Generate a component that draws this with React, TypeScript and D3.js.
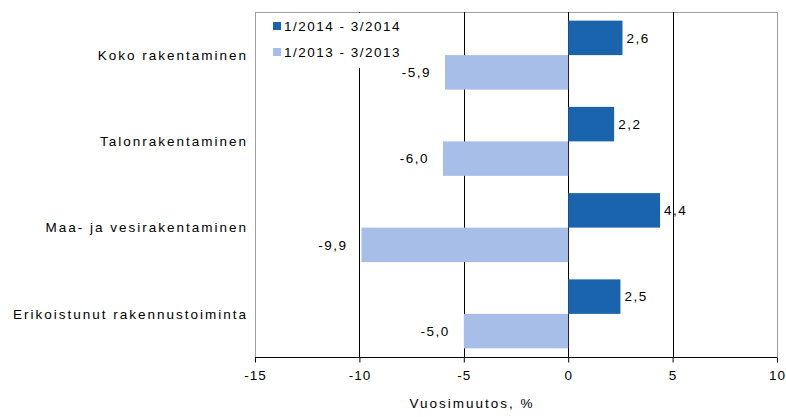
import { useEffect, useRef } from 'react';
import * as d3 from 'd3';

const categories = [
  'Koko rakentaminen',
  'Talonrakentaminen',
  'Maa- ja vesirakentaminen',
  'Erikoistunut rakennustoiminta',
];
const series = ['1/2014 - 3/2014', '1/2013 - 3/2013'];
const values2014 = [2.6, 2.2, 4.4, 2.5];
const values2013 = [-5.9, -6.0, -9.9, -5.0];
const ticks = [-15, -10, -5, 0, 5, 10];
const colors = ['#1a64ae', '#a7bee9'];

export default function App() {
  const ref = useRef<SVGSVGElement>(null);
  const width = 786;
  const height = 417;
  const left = 255;
  const right = 777;
  const top = 12;
  const bottom = 357;
  const font = '"Liberation Sans", Arial, sans-serif';
  const fs = 13.5;

  useEffect(() => {
    const svg = d3.select(ref.current);
    svg.selectAll('*').remove();

    const x = d3.scaleLinear().domain([-15, 10]).range([left, right]);
    const y = d3.scaleBand().domain(categories).range([top, bottom])
      .paddingInner(0.2).paddingOuter(0.1);
    const sub = d3.scaleBand().domain(series).range([0, y.bandwidth()]);

    // frame
    svg.append('rect')
      .attr('x', left + 0.5).attr('y', top + 0.5)
      .attr('width', right - left).attr('height', bottom - top)
      .attr('fill', 'none').attr('stroke', '#a0a0a0');

    // gridlines
    svg.append('g').selectAll('line')
      .data(ticks.filter((t) => t > -15 && t < 10))
      .enter().append('line')
      .attr('x1', (d) => Math.round(x(d)) + 0.5).attr('x2', (d) => Math.round(x(d)) + 0.5)
      .attr('y1', top).attr('y2', bottom)
      .attr('stroke', '#000');

    const rows = categories.map((c, i) => ({ c, v: [values2014[i], values2013[i]] }));

    rows.forEach((r) => {
      r.v.forEach((v, j) => {
        const by = (y(r.c) ?? 0) + (sub(series[j]) ?? 0);
        const x0 = x(Math.min(0, v));
        const x1 = x(Math.max(0, v));
        svg.append('rect')
          .attr('x', x0).attr('y', by)
          .attr('width', x1 - x0).attr('height', sub.bandwidth())
          .attr('fill', colors[j]);
        svg.append('text')
          .attr('x', v >= 0 ? x1 + 4 : x0 - 14)
          .attr('y', by + sub.bandwidth() / 2)
          .attr('dy', '0.35em')
          .attr('text-anchor', v >= 0 ? 'start' : 'end')
          .attr('font-family', font).attr('font-size', fs)
          .attr('letter-spacing', 1.5)
          .text(d3.format('.1f')(v).replace('.', ',').replace('−', '-'));
      });
    });

    // legend
    const lg = svg.append('g');
    lg.append('rect').attr('x', 262).attr('y', top + 1).attr('width', 172).attr('height', 55).attr('fill', '#fff');
    series.forEach((s, i) => {
      const ly = 26 + i * 26;
      lg.append('rect').attr('x', 273).attr('y', ly - 4).attr('width', 8).attr('height', 8).attr('fill', colors[i]);
      lg.append('text').attr('x', 284).attr('y', ly).attr('dy', '0.35em')
        .attr('font-family', font).attr('font-size', fs)
        .attr('letter-spacing', 1.5).text(s);
    });

    // axis
    const xAxis = d3.axisBottom(x).tickValues(ticks).tickSize(5).tickPadding(8)
      .tickFormat((d) => String(d));
    const ax = svg.append('g').attr('transform', `translate(0, ${bottom + 0.5})`).call(xAxis);
    ax.select('.domain').attr('stroke', '#000').attr('d', `M${left},0H${right}`);
    ax.selectAll('text').attr('font-family', font).attr('font-size', fs).attr('fill', '#000')
      .attr('letter-spacing', 1);

    svg.append('text').attr('x', 472).attr('y', 408)
      .attr('text-anchor', 'middle')
      .attr('font-family', font).attr('font-size', fs)
      .attr('letter-spacing', 2)
      .text('Vuosimuutos, %');

    // category labels
    svg.append('g').selectAll('text')
      .data(categories).enter().append('text')
      .attr('x', 248)
      .attr('y', (d) => (y(d) ?? 0) + y.bandwidth() / 2)
      .attr('dy', '0.35em')
      .attr('text-anchor', 'end')
      .attr('font-family', font).attr('font-size', fs)
      .attr('letter-spacing', 2)
      .text((d) => d);
  }, []);

  return (
    <svg
      ref={ref}
      width={width}
      height={height}
      style={{ position: 'absolute', left: 0, top: 0, background: '#fff' }}
    />
  );
}
